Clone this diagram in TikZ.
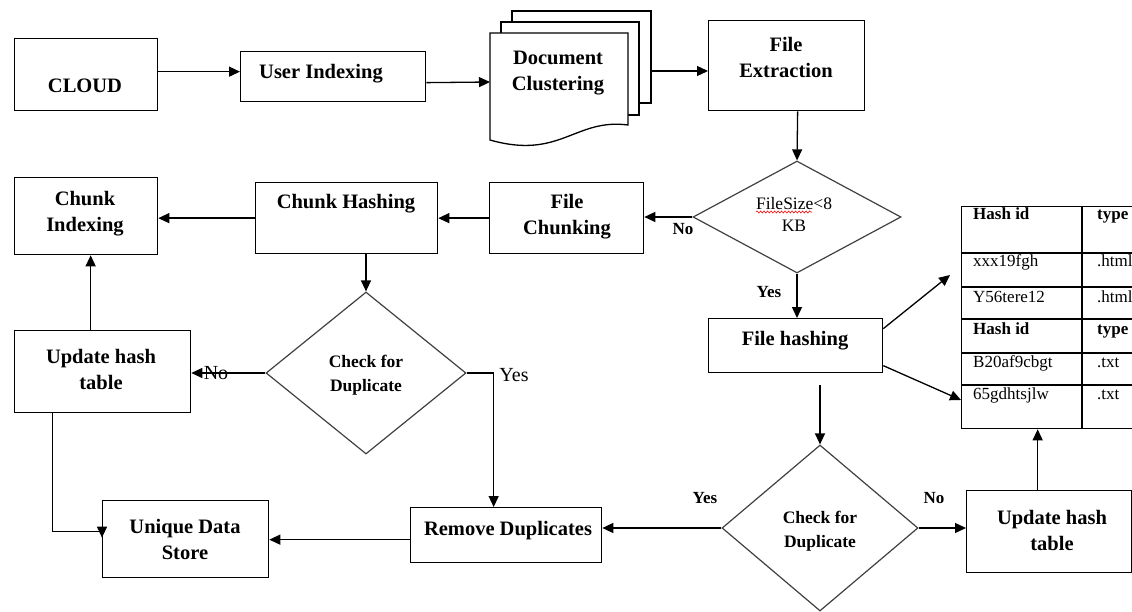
\documentclass[tikz,border=0pt]{standalone}
\usepackage{fontspec}
\setmainfont{Liberation Serif}
\usetikzlibrary{arrows.meta,shapes.geometric,decorations.pathmorphing}
\begin{document}
\begin{tikzpicture}[x=1pt,y=-1pt,
  box/.style={draw, line width=1.3pt, rectangle, inner sep=0pt, anchor=north west},
  dia/.style={draw=black!75, line width=1.2pt, diamond, inner sep=0pt},
  lbl/.style={font=\fontsize{20.5}{26}\selectfont\bfseries, align=center, inner sep=0pt},
  dlbl/.style={font=\fontsize{17.5}{24}\selectfont\bfseries, align=center, inner sep=0pt},
  dreg/.style={font=\fontsize{17.5}{22}\selectfont, align=center, inner sep=0pt},
  yn/.style={font=\fontsize{17}{20}\selectfont\bfseries, inner sep=0pt},
  ynr/.style={font=\fontsize{20}{22}\selectfont, inner sep=0pt},
  cell/.style={font=\fontsize{17}{20}\selectfont, anchor=west, inner sep=0pt, text height=12pt, text depth=4pt},
  cellb/.style={font=\fontsize{17}{20}\selectfont\bfseries, anchor=west, inner sep=0pt, text height=12pt, text depth=4pt},
  arr/.style={line width=1.3pt, -{Triangle[length=11pt,width=10pt]}},
  ln/.style={line width=1.3pt},
  page/.style={draw, line width=1.3pt, fill=white}]
\useasboundingbox (0,0) rectangle (1132,612);

% ---- row 1
\node[box, minimum width=143pt, minimum height=72pt] (cloud) at (14,38) {};
\node[lbl] (cloudt) at (85,86) {CLOUD};
\node[box, minimum width=185pt, minimum height=50pt] (user) at (240,51) {};
\node[lbl] (usert) at (321,74) {User Indexing};

% document stack
\draw[page] (512,11) rectangle (651,103);
\draw[page] (501,22) rectangle (639,115);
\draw[page] (490,33) -- (628,33) -- (628,125)
  .. controls (575,118) and (560,160) .. (490,140) -- cycle;
\node[lbl] (doct) at (558,73) {Document\\Clustering};
\coordinate (docL) at (490,82);
\coordinate (docR) at (651,71);

\node[box, minimum width=156pt, minimum height=90pt] (fext) at (708,20) {};
\node[lbl] (fextt) at (786,57) {File\\Extraction};

% ---- decision FileSize
\node[dia, minimum width=208pt, minimum height=112pt] (d1) at (797,217) {};
\node[dreg] (d1t) at (794,214) {FileSize\textless8\\KB};
\draw[red, line width=0.6pt, decorate, decoration={snake, amplitude=1pt, segment length=3.5pt}] (756,212) -- (812,212);

% ---- row 2
\node[box, minimum width=154pt, minimum height=71pt] (fchunk) at (489,182) {};
\node[lbl] (fchunkt) at (567,217) {File\\Chunking};
\node[box, minimum width=182pt, minimum height=71pt] (chash) at (255,182) {};
\node[lbl] (chasht) at (346,204) {Chunk Hashing};
\node[box, minimum width=143pt, minimum height=77pt] (cindex) at (14,177) {};
\node[lbl] (cindext) at (85,214) {Chunk\\Indexing};

\node[box, minimum width=174pt, minimum height=54pt] (fhash) at (708,318) {};
\node[lbl] (fhasht) at (795,341) {File hashing};

% ---- left decision
\node[dia, minimum width=200pt, minimum height=162pt] (d2) at (366,373) {};
\node[dlbl] (d2t) at (366,375) {Check for\\Duplicate};
\node[box, minimum width=176pt, minimum height=82pt] (updL) at (14,330) {};
\node[lbl] (updLt) at (101,369) {Update hash\\table};

% ---- bottom row
\node[box, minimum width=166pt, minimum height=77pt] (uniq) at (102,500) {};
\node[lbl] (uniqt) at (185,539) {Unique Data\\Store};
\node[box, minimum width=191pt, minimum height=55pt] (remdup) at (410,507) {};
\node[lbl] (remdupt) at (508,531) {Remove Duplicates};

\node[dia, minimum width=196pt, minimum height=166pt] (d3) at (820,528) {};
\node[dlbl] (d3t) at (820,531) {Check for\\Duplicate};
\node[box, minimum width=165pt, minimum height=82pt] (updR) at (966,490) {};
\node[lbl] (updRt) at (1052,530) {Update hash\\table};

% ---- table
\node[box, minimum width=190pt, minimum height=222pt] (tbl) at (961,206) {};
\draw[ln] (1082,206) -- (1082,428);
\foreach \yy in {253,287,319,353,385} \draw[ln] (961,\yy) -- (1140,\yy);
\node[cellb] (c11) at (973,216) {Hash id};
\node[cellb] (c12) at (1097,216) {type};
\node[cell] (c21) at (973,263) {xxx19fgh};
\node[cell] (c22) at (1097,263) {.html};
\node[cell] (c31) at (973,298) {Y56tere12};
\node[cell] (c32) at (1097,298) {.html};
\node[cellb] (c41) at (973,330) {Hash id};
\node[cellb] (c42) at (1097,330) {type};
\node[cell] (c51) at (973,363) {B20af9cbgt};
\node[cell] (c52) at (1097,363) {.txt};
\node[cell] (c61) at (973,395) {65gdhtsjlw};
\node[cell] (c62) at (1097,395) {.txt};

% ---- labels
\node[yn] (no1) at (683,229) {No};
\node[yn] (yes1) at (769,292) {Yes};
\node[ynr] (no2) at (216,373) {No};
\node[ynr] (yes2) at (514,375) {Yes};
\node[yn] (yes3) at (705,498) {Yes};
\node[yn] (no3) at (934,498) {No};

% ---- connectors
\draw[arr] ([yshift=3pt]cloud.east) -- ([yshift=3pt]cloud.east -| user.west);
\draw[arr] ([yshift=-6pt]user.east) -- (docL);
\draw[arr] (docR) -- (docR -| fext.west);
\draw[arr] ([xshift=11pt]fext.south) -- (d1.north);
\draw[arr] (d1.west) -- (d1.west -| fchunk.east);
\draw[arr] (d1.south) -- (d1.south |- fhash.north);
\draw[arr] (fchunk.west) -- (chash.east);
\draw[arr] (chash.west) -- (chash.west -| cindex.east);
\draw[arr] (d2.north |- chash.south) -- (d2.north);
\draw[arr] (d2.west) -- (d2.west -| updL.east);
\draw[arr] (d2.east) -| ([xshift=-12.5pt]remdup.north);
\draw[arr] ([xshift=-12pt]updL.north) -- ([xshift=-12pt]updL.north |- cindex.south);
\draw[arr] ([xshift=-50pt]updL.south) |- ([yshift=7.5pt]uniq.west) -- ([yshift=1.5pt]uniq.west);
\draw[arr] ([yshift=-4.5pt]remdup.west) -- ([yshift=-4.5pt]remdup.west -| uniq.east);
\draw[arr] (d3.west) -- (d3.west -| remdup.east);
\draw[arr] (d3.east) -- (d3.east -| updR.west);
\draw[arr] ([xshift=-11.5pt]updR.north) -- ([xshift=-11.5pt]updR.north |- tbl.south);
\coordinate (tA) at (950,275);
\coordinate (tB) at (961,400);
\draw[arr] ([yshift=17pt]fhash.east) -- (tA);
\draw[arr] ([yshift=-20pt]fhash.east) -- (tB);
\coordinate (fh2) at (820,385);
\draw[arr] (fh2) -- (d3.north);
\end{tikzpicture}
\end{document}
